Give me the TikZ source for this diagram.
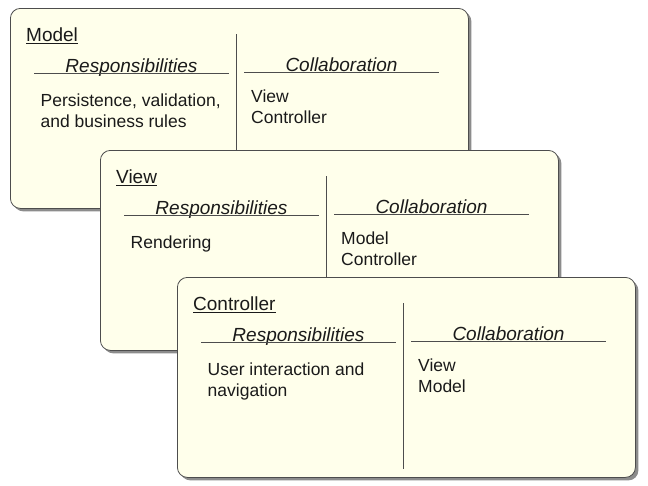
\documentclass[tikz,border=0pt]{standalone}
\usepackage{fontspec}
\setmainfont{Liberation Sans}
\usetikzlibrary{shadows}

\definecolor{cardfill}{HTML}{FFFFEB}
\definecolor{cardline}{HTML}{4D4D4D}
\definecolor{ink}{HTML}{1A1A1A}

\tikzset{
  card/.style={draw=cardline, fill=cardfill, line width=0.8pt, rounded corners=10pt,
    minimum width=458pt, minimum height=200pt, anchor=north west, inner sep=0pt,
    drop shadow={shadow xshift=3pt, shadow yshift=-3pt, fill=black, opacity=0.45}},
  cardtitle/.style={anchor=base west, inner sep=0pt, text=ink,
    font=\fontsize{19}{23}\selectfont},
  colhead/.style={anchor=south, inner sep=0pt, text depth=0pt, minimum width=194pt,
    text=ink, font=\fontsize{19}{23}\selectfont\itshape},
  colbody/.style={anchor=north west, inner sep=0pt, align=left, text=ink,
    font=\fontsize{17.5}{20.7}\selectfont},
  rule/.style={draw=cardline, line width=0.8pt}
}

\begin{document}
\begin{tikzpicture}[x=1pt, y=-1pt]

\useasboundingbox[fill=white] (0,0) rectangle (648,485);

% Model
\node[card] (model) at (10,8) {};
\begin{scope}[shift={(model.north west)}]
  \node[cardtitle] (mtitle) at (16,33.5) {\underline{Model}};
  \node[colhead] (mresp) at (121.5,65) {Responsibilities};
  \node[colhead] (mcollab) at (331.5,64) {Collaboration};
  \draw[rule] (mresp.south west) -- (mresp.south east);
  \draw[rule] (mcollab.south west) -- (mcollab.south east);
  \draw[rule] (226,26) -- (226,192);
  \node[colbody] (mrespbody) at (30.5,85.5) {Persistence, validation,\\and business rules};
  \node[colbody] (mcollabbody) at (241,81.5) {View\\Controller};
\end{scope}

% View
\node[card] (view) at (100,150) {};
\begin{scope}[shift={(view.north west)}]
  \node[cardtitle] (vtitle) at (16,33.5) {\underline{View}};
  \node[colhead] (vresp) at (121.5,65) {Responsibilities};
  \node[colhead] (vcollab) at (331.5,64) {Collaboration};
  \draw[rule] (vresp.south west) -- (vresp.south east);
  \draw[rule] (vcollab.south west) -- (vcollab.south east);
  \draw[rule] (226,26) -- (226,192);
  \node[colbody] (vrespbody) at (30.5,85.5) {Rendering};
  \node[colbody] (vcollabbody) at (241,81.5) {Model\\Controller};
\end{scope}

% Controller
\node[card] (controller) at (177,277) {};
\begin{scope}[shift={(controller.north west)}]
  \node[cardtitle] (ctitle) at (16,33.5) {\underline{Controller}};
  \node[colhead] (cresp) at (121.5,65) {Responsibilities};
  \node[colhead] (ccollab) at (331.5,64) {Collaboration};
  \draw[rule] (cresp.south west) -- (cresp.south east);
  \draw[rule] (ccollab.south west) -- (ccollab.south east);
  \draw[rule] (226,26) -- (226,192);
  \node[colbody] (crespbody) at (30.5,85.5) {User interaction and\\navigation};
  \node[colbody] (ccollabbody) at (241,81.5) {View\\Model};
\end{scope}

\end{tikzpicture}
\end{document}
